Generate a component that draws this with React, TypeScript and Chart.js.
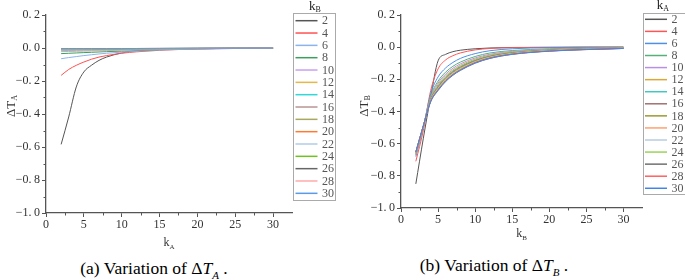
import React, { useEffect, useRef } from "react";
import { Chart, registerables } from "chart.js";
Chart.register(...registerables);

// x positions (k values) shared by all curves
const kValues = [2, 3, 4, 5, 6, 7, 8, 10, 12, 15, 20, 25, 30];
const seriesLabels = ["2", "4", "6", "8", "10", "12", "14", "16", "18", "20", "22", "24", "26", "28", "30"];

// (a) ΔT_A vs kA, one curve per kB
const dTA_kB2 = [-0.584, -0.418, -0.236, -0.145, -0.105, -0.075, -0.055, -0.03, -0.016, -0.008, -0.004, -0.002, -0.001];
const dTA_kB4 = [-0.166, -0.13, -0.105, -0.085, -0.068, -0.055, -0.046, -0.032, -0.023, -0.014, -0.006, -0.003, -0.001];
const dTA_kB6 = [-0.065, -0.058, -0.052, -0.046, -0.041, -0.036, -0.032, -0.025, -0.019, -0.012, -0.006, -0.003, -0.001];
const dTA_kB8 = [-0.034, -0.032, -0.03, -0.028, -0.026, -0.024, -0.022, -0.019, -0.015, -0.01, -0.005, -0.002, -0.001];
const dTA_kB10 = [-0.022, -0.021, -0.02, -0.019, -0.018, -0.017, -0.016, -0.014, -0.012, -0.008, -0.004, -0.002, -0.001];
const dTA_kB12 = [-0.016, -0.015, -0.015, -0.014, -0.014, -0.013, -0.012, -0.011, -0.009, -0.007, -0.004, -0.002, -0.001];
const dTA_kB14 = [-0.012, -0.012, -0.011, -0.011, -0.011, -0.01, -0.01, -0.009, -0.008, -0.006, -0.003, -0.002, -0.001];
const dTA_kB16 = [-0.01, -0.01, -0.009, -0.009, -0.009, -0.008, -0.008, -0.007, -0.006, -0.005, -0.003, -0.002, -0.001];
const dTA_kB18 = [-0.008, -0.008, -0.008, -0.007, -0.007, -0.007, -0.007, -0.006, -0.005, -0.004, -0.003, -0.001, -0.001];
const dTA_kB20 = [-0.007, -0.007, -0.006, -0.006, -0.006, -0.006, -0.006, -0.005, -0.005, -0.004, -0.002, -0.001, 0];
const dTA_kB22 = [-0.006, -0.006, -0.006, -0.005, -0.005, -0.005, -0.005, -0.005, -0.004, -0.003, -0.002, -0.001, 0];
const dTA_kB24 = [-0.005, -0.005, -0.005, -0.005, -0.005, -0.004, -0.004, -0.004, -0.004, -0.003, -0.002, -0.001, 0];
const dTA_kB26 = [-0.004, -0.004, -0.004, -0.004, -0.004, -0.004, -0.004, -0.004, -0.003, -0.003, -0.002, -0.001, 0];
const dTA_kB28 = [-0.004, -0.004, -0.004, -0.004, -0.004, -0.003, -0.003, -0.003, -0.003, -0.002, -0.002, -0.001, 0];
const dTA_kB30 = [-0.003, -0.003, -0.003, -0.003, -0.003, -0.003, -0.003, -0.003, -0.003, -0.002, -0.001, -0.001, 0];

// (b) ΔT_B vs kB, one curve per kA
const dTB_kA2 = [-0.85, -0.57, -0.31, -0.085, -0.045, -0.028, -0.019, -0.01, -0.005, -0.002, -0.001, 0, 0];
const dTB_kA4 = [-0.71, -0.52, -0.27, -0.135, -0.08, -0.053, -0.036, -0.017, -0.008, -0.003, -0.001, 0, 0];
const dTB_kA6 = [-0.68, -0.5, -0.29, -0.185, -0.13, -0.095, -0.07, -0.04, -0.022, -0.01, -0.003, -0.001, 0];
const dTB_kA8 = [-0.671, -0.497, -0.305, -0.211, -0.156, -0.119, -0.093, -0.058, -0.036, -0.021, -0.01, -0.005, -0.002];
const dTB_kA10 = [-0.667, -0.496, -0.313, -0.223, -0.168, -0.131, -0.104, -0.067, -0.044, -0.026, -0.013, -0.007, -0.004];
const dTB_kA12 = [-0.663, -0.495, -0.319, -0.233, -0.178, -0.141, -0.113, -0.074, -0.049, -0.03, -0.016, -0.009, -0.005];
const dTB_kA14 = [-0.66, -0.494, -0.323, -0.241, -0.186, -0.148, -0.12, -0.08, -0.054, -0.033, -0.018, -0.01, -0.005];
const dTB_kA16 = [-0.658, -0.494, -0.327, -0.247, -0.192, -0.153, -0.125, -0.084, -0.057, -0.036, -0.019, -0.011, -0.006];
const dTB_kA18 = [-0.656, -0.493, -0.33, -0.252, -0.197, -0.158, -0.129, -0.087, -0.06, -0.038, -0.02, -0.012, -0.006];
const dTB_kA20 = [-0.655, -0.493, -0.332, -0.256, -0.201, -0.162, -0.133, -0.09, -0.062, -0.039, -0.021, -0.013, -0.007];
const dTB_kA22 = [-0.654, -0.492, -0.334, -0.26, -0.205, -0.165, -0.136, -0.093, -0.064, -0.041, -0.022, -0.013, -0.007];
const dTB_kA24 = [-0.653, -0.492, -0.336, -0.262, -0.207, -0.168, -0.138, -0.095, -0.066, -0.042, -0.023, -0.014, -0.007];
const dTB_kA26 = [-0.652, -0.491, -0.337, -0.265, -0.21, -0.17, -0.141, -0.096, -0.067, -0.043, -0.024, -0.014, -0.008];
const dTB_kA28 = [-0.651, -0.491, -0.339, -0.267, -0.212, -0.173, -0.143, -0.098, -0.069, -0.044, -0.024, -0.015, -0.008];
const dTB_kA30 = [-0.65, -0.49, -0.34, -0.27, -0.215, -0.175, -0.145, -0.1, -0.07, -0.045, -0.025, -0.015, -0.008];

const seriesA = [dTA_kB2, dTA_kB4, dTA_kB6, dTA_kB8, dTA_kB10, dTA_kB12, dTA_kB14, dTA_kB16, dTA_kB18, dTA_kB20, dTA_kB22, dTA_kB24, dTA_kB26, dTA_kB28, dTA_kB30];
const seriesB = [dTB_kA2, dTB_kA4, dTB_kA6, dTB_kA8, dTB_kA10, dTB_kA12, dTB_kA14, dTB_kA16, dTB_kA18, dTB_kA20, dTB_kA22, dTB_kA24, dTB_kA26, dTB_kA28, dTB_kA30];

const colorsA = ["#555555", "#ff5050", "#8ab4ee", "#3d9e5f", "#c9a0f0", "#e6b84a", "#30d8d8", "#b89494", "#a8a860", "#ff7a30", "#b0cce8", "#70c020", "#666666", "#ffaaaa", "#5a9ae8"];
const colorsB = ["#555555", "#ff5555", "#4f8fe6", "#55b17a", "#b98ee8", "#dba838", "#3fc9c0", "#a07070", "#9a9a30", "#ffa070", "#b8cde0", "#9ad35a", "#707070", "#ff6060", "#3f85e8"];

const SERIF = '"Times New Roman", "Liberation Serif", Tinos, "DejaVu Serif", serif';
const AXIS = "#555555";

function drawSubText(ctx: CanvasRenderingContext2D, main: string, sub: string, cx: number, cy: number, mainSize: number, subSize: number, color: string) {
  ctx.fillStyle = color;
  ctx.textBaseline = "alphabetic";
  ctx.textAlign = "left";
  ctx.font = `${mainSize}px ${SERIF}`;
  const wm = ctx.measureText(main).width;
  ctx.font = `${subSize}px ${SERIF}`;
  const ws = ctx.measureText(sub).width;
  const x0 = cx - (wm + ws) / 2;
  const base = cy + mainSize * 0.35;
  ctx.font = `${mainSize}px ${SERIF}`;
  ctx.fillText(main, x0, base);
  ctx.font = `${subSize}px ${SERIF}`;
  ctx.fillText(sub, x0 + wm, base + subSize * 0.35);
}

const decorPlugin = {
  id: "decor",
  afterDraw(chart: any, _args: any, opts: any) {
    const { ctx, chartArea } = chart;
    const xs = chart.scales.x;
    const ys = chart.scales.y;
    ctx.save();
    // minor ticks
    ctx.strokeStyle = AXIS;
    ctx.lineWidth = 1;
    ctx.beginPath();
    for (let v = 2.5; v < 32.5; v += 5) {
      const px = Math.round(xs.getPixelForValue(v)) + 0.5;
      ctx.moveTo(px, chartArea.bottom);
      ctx.lineTo(px, chartArea.bottom + 2.5);
    }
    for (let v = 0.1; v > -1.0; v -= 0.2) {
      const py = Math.round(ys.getPixelForValue(v)) + 0.5;
      ctx.moveTo(chartArea.left - 2.5, py);
      ctx.lineTo(chartArea.left, py);
    }
    ctx.stroke();

    // legend
    const lg = opts.legend;
    ctx.strokeStyle = "#aaaaaa";
    ctx.lineWidth = 1;
    ctx.strokeRect(lg.x + 0.5, lg.y + 0.5, lg.w, lg.h);
    chart.data.datasets.forEach((ds: any, i: number) => {
      const y = lg.rowY + i * lg.rowGap;
      ctx.strokeStyle = ds.borderColor;
      ctx.lineWidth = 1.5;
      ctx.beginPath();
      ctx.moveTo(lg.lineX0, y);
      ctx.lineTo(lg.lineX1, y);
      ctx.stroke();
      ctx.fillStyle = "#555555";
      ctx.font = `12px ${SERIF}`;
      ctx.textAlign = "left";
      ctx.textBaseline = "middle";
      ctx.fillText(ds.label, lg.textX, y + 0.5);
    });
    drawSubText(ctx, "k", opts.legendTitleSub, lg.titleX, lg.titleY, 13, 8, "#222222");

    // x title
    drawSubText(ctx, "k", opts.xSub, (chartArea.left + chartArea.right) / 2, opts.xTitleY, 12, 7, "#333333");

    // y title (rotated)
    ctx.translate(opts.yTitleX, opts.yTitleY);
    ctx.rotate(-Math.PI / 2);
    drawSubText(ctx, "\u0394T", opts.ySub, 0, 0, 13, 8, "#333333");
    ctx.restore();
  },
};

function fmtY(v: number) {
  if (Math.abs(v) < 1e-9) return "0.\u20090";
  const s = Number(v).toFixed(1).replace(".", ".\u2009");
  return s.startsWith("-") ? "\u2212" + s.slice(1) : s;
}

type PanelProps = {
  series: number[][];
  colors: string[];
  width: number;
  height: number;
  area: { left: number; right: number; top: number; bottom: number };
  decor: any;
};

function Panel({ series, colors, width, height, area, decor }: PanelProps) {
  const ref = useRef<HTMLCanvasElement | null>(null);
  useEffect(() => {
    if (!ref.current) return;
    const datasets = series.map((arr, i) => ({
      label: seriesLabels[i],
      data: kValues.map((x, j) => ({ x, y: arr[j] })),
      borderColor: colors[i],
      backgroundColor: colors[i],
      borderWidth: 1,
      pointRadius: 0,
      fill: false,
      cubicInterpolationMode: "monotone" as const,
      order: -i,
    }));
    const chart = new Chart(ref.current, {
      type: "line",
      data: { datasets },
      plugins: [decorPlugin],
      options: {
        responsive: false,
        animation: false,
        devicePixelRatio: 1,
        layout: { padding: { left: 0, top: area.top, right: width - area.right, bottom: 0 } },
        plugins: {
          legend: { display: false },
          tooltip: { enabled: false },
          decor,
        } as any,
        scales: {
          x: {
            type: "linear",
            min: 0,
            max: 32.5,
            afterFit: (s: any) => {
              s.height = height - area.bottom;
            },
            ticks: {
              stepSize: 5,
              includeBounds: false,
              padding: 1,
              color: "#333333",
              font: { family: SERIF, size: 12 },
              maxRotation: 0,
            },
            grid: { display: true, drawOnChartArea: false, drawTicks: true, tickLength: 4, color: AXIS, tickColor: AXIS },
            border: { display: true, color: AXIS, width: 1.3 },
          },
          y: {
            type: "linear",
            min: -1.0,
            max: 0.2,
            afterFit: (s: any) => {
              s.width = area.left;
            },
            ticks: {
              stepSize: 0.2,
              padding: 2,
              color: "#333333",
              font: { family: SERIF, size: 12 },
              callback: (v: any) => fmtY(Number(v)),
            },
            grid: { display: true, drawOnChartArea: false, drawTicks: true, tickLength: 4, color: AXIS, tickColor: AXIS },
            border: { display: true, color: AXIS, width: 1.3 },
          },
        },
      },
    });
    return () => chart.destroy();
  }, []);
  return <canvas ref={ref} width={width} height={height} style={{ width, height, display: "block" }} />;
}

const captionStyle: React.CSSProperties = {
  position: "absolute",
  fontFamily: SERIF,
  fontSize: 17.5,
  color: "#000",
  whiteSpace: "nowrap",
  transform: "translateX(-50%)",
  lineHeight: "20px",
};

export default function App() {
  return (
    <div style={{ position: "absolute", left: 0, top: 0, width: 685, height: 280, background: "#fff", overflow: "hidden" }}>
      <div style={{ position: "absolute", left: 0, top: 0 }}>
        <Panel
          series={seriesA}
          colors={colorsA}
          width={342}
          height={255}
          area={{ left: 46, right: 292, top: 15, bottom: 213 }}
          decor={{
            legend: { x: 293, y: 13, w: 42, h: 187, rowY: 20.7, rowGap: 12.33, lineX0: 295.5, lineX1: 317.5, textX: 322, titleX: 315, titleY: 5 },
            legendTitleSub: "B",
            xSub: "A",
            xTitleY: 242,
            ySub: "A",
            yTitleX: 10,
            yTitleY: 106,
          }}
        />
      </div>
      <div style={{ position: "absolute", left: 342, top: 0 }}>
        <Panel
          series={seriesB}
          colors={colorsB}
          width={343}
          height={255}
          area={{ left: 59, right: 300, top: 15, bottom: 208 }}
          decor={{
            legend: { x: 301, y: 13, w: 43, h: 181, rowY: 19.3, rowGap: 12.07, lineX0: 303, lineX1: 325, textX: 329.5, titleX: 321, titleY: 4 },
            legendTitleSub: "A",
            xSub: "B",
            xTitleY: 233,
            ySub: "B",
            yTitleX: 21,
            yTitleY: 106,
          }}
        />
      </div>
      <div style={{ ...captionStyle, left: 154, top: 258 }}>
        (a) Variation of {"\u0394"}<i>T</i>
        <sub style={{ fontSize: 11, fontStyle: "italic" }}>A</sub> .
      </div>
      <div style={{ ...captionStyle, left: 494, top: 255 }}>
        (b) Variation of {"\u0394"}<i>T</i>
        <sub style={{ fontSize: 11, fontStyle: "italic" }}>B</sub> .
      </div>
    </div>
  );
}
